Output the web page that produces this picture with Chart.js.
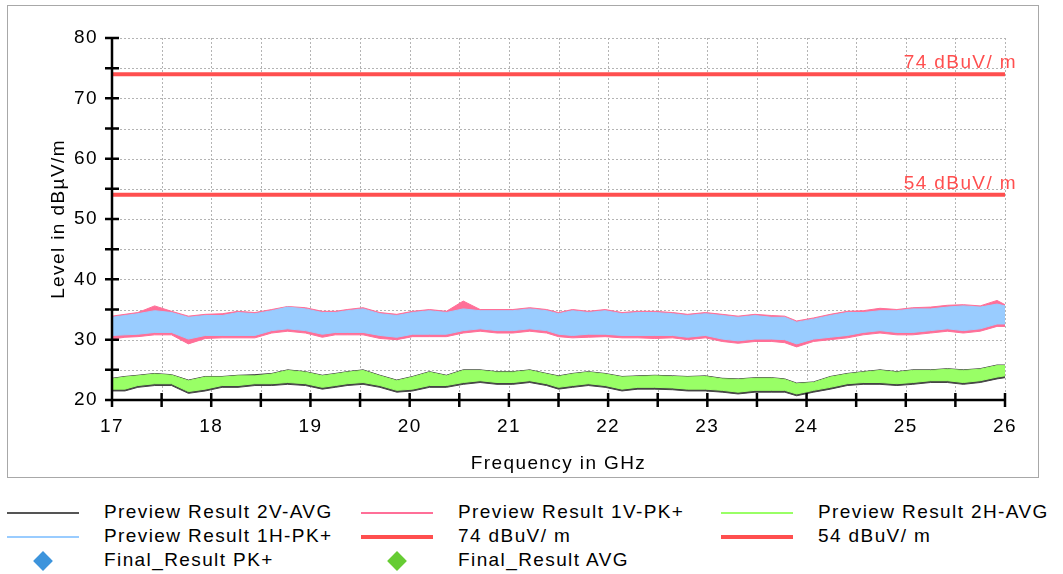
<!DOCTYPE html>
<html>
<head>
<meta charset="utf-8">
<script src="https://cdn.jsdelivr.net/npm/chart.js@4"></script>
<style>
  body { margin: 0; background: #fff; font-family: 'Liberation Sans', Arial, sans-serif; }
  #frame { position: absolute; left: 7px; top: 5px; width: 1030px; height: 471px; border: 1px solid #a8a8a8; }
  #wrap { position: absolute; left: 8px; top: 6px; width: 1030px; height: 470px; }
  .lg { position: absolute; font-size: 19px; letter-spacing: 1.4px; color: #000; line-height: 22px; white-space: nowrap; }
  .sw { position: absolute; }
</style>
</head>
<body>
<div id="frame"></div>
<div id="wrap"><canvas id="emc"></canvas></div>
<div id="legend"></div>
<script>
// frequency points (GHz) where the trace envelopes were read
let freqs = [17.00,17.13,17.26,17.43,17.60,17.77,17.94,18.11,18.27,18.44,18.61,18.77,18.95,19.12,19.25,19.37,19.53,19.70,19.87,20.03,20.20,20.37,20.54,20.71,20.88,21.04,21.21,21.38,21.50,21.64,21.80,21.97,22.14,22.30,22.47,22.65,22.80,22.98,23.15,23.31,23.48,23.65,23.78,23.90,24.07,24.24,24.41,24.57,24.74,24.91,25.07,25.25,25.42,25.58,25.75,25.92,26.00];

// Preview Result 1H-PK+ (upper / lower edge of the trace)
let pk1H_hi = [33.7,34.0,34.3,34.8,34.5,33.7,34.0,34.0,34.5,34.3,34.8,35.4,35.1,34.5,34.5,34.8,35.1,34.3,34.0,34.5,34.8,34.5,35.1,34.8,34.8,34.8,35.1,34.8,34.3,34.8,34.5,34.8,34.3,34.5,34.5,34.3,34.0,34.3,34.0,33.7,34.0,33.7,33.7,32.9,33.4,34.0,34.5,34.5,34.8,34.8,35.1,35.1,35.4,35.6,35.4,35.9,35.6];
let pk1H_lo = [30.7,30.8,30.9,31.2,31.2,30.1,30.7,30.7,30.7,30.7,31.5,31.8,31.5,30.9,31.2,31.2,31.2,30.7,30.4,30.9,30.9,30.9,31.5,31.8,31.5,31.5,31.8,31.5,30.9,30.7,30.9,30.9,30.7,30.7,30.7,30.7,30.4,30.7,30.1,29.8,30.1,30.1,30.0,29.3,30.1,30.4,30.7,31.2,31.5,31.2,31.2,31.5,31.8,31.5,31.8,32.6,32.6];

// Preview Result 1V-PK+
let pk1V_hi = [33.9,34.2,34.5,35.6,34.7,33.9,34.2,34.3,34.7,34.5,35.0,35.5,35.3,34.7,34.7,35.0,35.3,34.5,34.2,34.7,35.0,34.7,36.4,35.0,35.0,35.0,35.3,35.0,34.5,35.0,34.7,35.0,34.5,34.7,34.7,34.5,34.2,34.5,34.2,33.9,34.2,34.0,33.9,33.1,33.6,34.2,34.7,34.8,35.2,35.0,35.3,35.4,35.7,35.8,35.6,36.5,35.8];
let pk1V_lo = [30.1,30.4,30.5,30.8,30.8,29.3,30.2,30.3,30.3,30.3,31.1,31.4,31.1,30.4,30.8,30.8,30.8,30.2,30.0,30.5,30.5,30.5,31.1,31.4,31.1,31.1,31.4,31.1,30.5,30.3,30.4,30.5,30.3,30.3,30.2,30.3,30.0,30.3,29.7,29.4,29.7,29.7,29.5,28.8,29.7,30.0,30.3,30.8,31.1,30.8,30.8,31.1,31.4,31.1,31.4,32.2,32.2];

// Preview Result 2H-AVG
let avg2H_hi = [23.5,23.8,24.0,24.3,24.1,23.2,23.8,23.8,24.0,24.0,24.3,24.9,24.6,24.0,24.3,24.6,24.9,24.0,23.2,23.8,24.6,24.0,24.9,24.9,24.6,24.6,24.9,24.3,23.9,24.3,24.6,24.3,23.8,23.9,24.0,23.9,23.8,23.9,23.5,23.4,23.6,23.6,23.4,22.7,22.9,23.8,24.3,24.6,24.9,24.6,24.9,24.9,25.1,24.9,25.1,25.7,25.7];
let avg2H_lo = [21.8,21.8,22.4,22.7,22.7,21.4,21.8,22.4,22.4,22.7,22.7,22.9,22.7,22.1,22.4,22.7,22.9,22.4,21.6,21.8,22.4,22.4,22.9,23.2,22.9,22.9,23.2,22.7,22.1,22.4,22.7,22.4,21.8,22.1,22.1,22.0,21.8,21.8,21.6,21.3,21.6,21.6,21.6,21.0,21.6,22.1,22.7,22.9,22.9,22.7,22.9,23.2,23.2,22.9,23.2,23.8,24.0];

// Preview Result 2V-AVG
let avg2V_hi = [23.6,23.9,24.1,24.4,24.2,23.3,23.9,23.9,24.1,24.2,24.4,25.0,24.7,24.1,24.4,24.7,25.0,24.1,23.3,23.9,24.7,24.1,25.0,25.0,24.7,24.7,25.0,24.4,24.0,24.4,24.7,24.4,23.9,24.0,24.1,24.0,23.9,24.0,23.6,23.5,23.7,23.7,23.5,22.8,23.0,23.9,24.4,24.7,25.0,24.7,25.0,25.0,25.2,25.0,25.2,25.8,25.8];
let avg2V_lo = [21.5,21.5,22.1,22.4,22.4,21.1,21.5,22.1,22.1,22.4,22.4,22.6,22.4,21.8,22.1,22.4,22.6,22.1,21.3,21.5,22.1,22.1,22.6,22.9,22.6,22.6,22.9,22.4,21.8,22.1,22.4,22.1,21.5,21.8,21.8,21.7,21.5,21.5,21.3,21.0,21.3,21.3,21.3,20.7,21.3,21.8,22.4,22.6,22.6,22.4,22.6,22.9,22.9,22.6,22.9,23.5,23.7];

// limit lines
let limitLabels = ['74 dBuV/ m', '54 dBuV/ m'];
let limitValues = [74, 54];
let freqRange = [17, 26];

// axis ticks
let yTickLabels = [20, 30, 40, 50, 60, 70, 80];
let xTickLabels = [17, 18, 19, 20, 21, 22, 23, 24, 25, 26];

let legendNames = ['Preview Result 2V-AVG', 'Preview Result 1V-PK+', 'Preview Result 2H-AVG',
                   'Preview Result 1H-PK+', '74 dBuV/ m', '54 dBuV/ m',
                   'Final_Result PK+', 'Final_Result AVG'];

const FONT = "'Liberation Sans', Arial, sans-serif";
const RED = '#ff4f4f';

function pts(arr) {
    return freqs.map((f, i) => ({ x: f, y: arr[i] }));
}

function band(hi, lo, color) {
    return [
        { data: pts(hi), borderColor: color, backgroundColor: color, borderWidth: 1, pointRadius: 0, tension: 0, fill: false },
        { data: pts(lo), borderColor: color, backgroundColor: color, borderWidth: 1, pointRadius: 0, tension: 0, fill: '-1' }
    ];
}

let datasets = [];
limitValues.forEach(v => {
    datasets.push({
        data: freqRange.map(f => ({ x: f, y: v })),
        borderColor: RED, borderWidth: 4, pointRadius: 0, fill: false
    });
});
datasets = datasets
    .concat(band(pk1H_hi, pk1H_lo, '#99ccff'))
    .concat(band(pk1V_hi, pk1V_lo, '#ff6f98'))
    .concat(band(avg2H_hi, avg2H_lo, '#99ff66'))
    .concat(band(avg2V_hi, avg2V_lo, '#444444'));

// dotted grid, axes with ticks crossing the axis line, limit labels
const axesPlugin = {
    id: 'axes',
    beforeDraw(chart) {
        chart.ctx.letterSpacing = '1.4px';
    },
    beforeDatasetsDraw(chart) {
        const { ctx, chartArea: a, scales: { x, y } } = chart;
        ctx.save();
        ctx.strokeStyle = '#b4b4b4';
        ctx.lineWidth = 1;
        ctx.setLineDash([2, 2]);
        ctx.beginPath();
        y.ticks.forEach(t => {
            const py = Math.round(y.getPixelForValue(t.value)) + 0.5;
            ctx.moveTo(a.left, py);
            ctx.lineTo(a.right, py);
        });
        x.ticks.forEach(t => {
            const px = Math.round(x.getPixelForValue(t.value)) + 0.5;
            ctx.moveTo(px, a.top);
            ctx.lineTo(px, a.bottom);
        });
        ctx.stroke();
        ctx.restore();
    },
    afterDatasetsDraw(chart) {
        const { ctx, chartArea: a, scales: { x, y } } = chart;
        ctx.save();
        ctx.strokeStyle = '#000';
        ctx.lineWidth = 2.5;
        ctx.beginPath();
        ctx.moveTo(a.left, a.top);
        ctx.lineTo(a.left, a.bottom);
        ctx.lineTo(a.right, a.bottom);
        y.ticks.forEach(t => {
            const py = y.getPixelForValue(t.value);
            ctx.moveTo(a.left - 7, py);
            ctx.lineTo(a.left + 7, py);
        });
        x.ticks.forEach(t => {
            const px = x.getPixelForValue(t.value);
            ctx.moveTo(px, a.bottom - 7);
            ctx.lineTo(px, a.bottom + 7);
        });
        ctx.stroke();

        ctx.font = '19px ' + FONT;
        ctx.letterSpacing = '1.4px';
        ctx.fillStyle = RED;
        ctx.textAlign = 'right';
        ctx.textBaseline = 'alphabetic';
        limitValues.forEach((v, i) => {
            ctx.fillText(limitLabels[i], a.right + 12, y.getPixelForValue(v) - 6);
        });
        ctx.restore();
    }
};

let ctx = document.getElementById('emc').getContext('2d');
new Chart(ctx, {
    type: 'line',
    data: { datasets: datasets },
    plugins: [axesPlugin],
    options: {
        responsive: true,
        maintainAspectRatio: false,
        animation: false,
        layout: { padding: { left: 0, top: 32, right: 33, bottom: 0 } },
        plugins: { legend: { display: false }, tooltip: { enabled: false } },
        scales: {
            x: {
                type: 'linear',
                min: freqRange[0], max: freqRange[1],
                afterFit: s => { s.height = 76; },
                grid: { display: false, drawTicks: false },
                border: { display: false },
                ticks: {
                    stepSize: 0.5, padding: 15, color: '#000', maxRotation: 0, autoSkip: false,
                    font: { family: FONT, size: 19 },
                    callback: v => xTickLabels.includes(v) ? String(v) : ''
                },
                title: {
                    display: true, text: 'Frequency in GHz', color: '#000',
                    font: { family: FONT, size: 19 }, padding: { top: 0, bottom: 1 }
                }
            },
            y: {
                min: 20, max: 80,
                afterFit: s => { s.width = 104; },
                grid: { display: false, drawTicks: false },
                border: { display: false },
                ticks: {
                    stepSize: 5, padding: 14, color: '#000', autoSkip: false,
                    font: { family: FONT, size: 19 },
                    callback: v => yTickLabels.includes(v) ? String(v) : ''
                },
                title: {
                    display: true, text: 'Level in dBµV/m', color: '#000',
                    font: { family: FONT, size: 19 }, padding: { top: 39, bottom: 0 }
                }
            }
        }
    }
});

// legend below the chart frame
let legendKinds = [
    { kind: 'line', color: '#555555', h: 2 }, { kind: 'line', color: '#ff6f98', h: 2 }, { kind: 'line', color: '#99ff66', h: 2 },
    { kind: 'line', color: '#99ccff', h: 2 }, { kind: 'line', color: RED, h: 4 }, { kind: 'line', color: RED, h: 4 },
    { kind: 'diamond', color: '#3d94dc' }, { kind: 'diamond', color: '#66cc33' }
];
let colLine = [7, 361, 721];
let colText = [104, 458, 818];
let rowY = [513, 537, 561];
let legend = document.getElementById('legend');
legendNames.forEach((name, i) => {
    let c = i % 3, r = Math.floor(i / 3);
    let k = legendKinds[i];
    let sw = document.createElement('div');
    sw.className = 'sw';
    if (k.kind === 'line') {
        sw.style.cssText = 'left:' + colLine[c] + 'px;top:' + (rowY[r] - k.h / 2) + 'px;width:72px;height:' + k.h + 'px;background:' + k.color;
    } else {
        sw.style.cssText = 'left:' + (colLine[c] + 36 - 7) + 'px;top:' + (rowY[r] - 7) + 'px;width:14px;height:14px;transform:rotate(45deg);background:' + k.color;
    }
    legend.appendChild(sw);
    let t = document.createElement('div');
    t.className = 'lg';
    t.textContent = name;
    t.style.left = colText[c] + 'px';
    t.style.top = (rowY[r] - 12) + 'px';
    legend.appendChild(t);
});
</script>
</body>
</html>
